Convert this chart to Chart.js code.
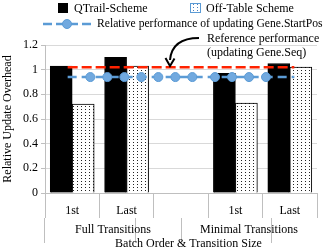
<!DOCTYPE html>
<html><head><meta charset="utf-8">
<script src="https://cdn.jsdelivr.net/npm/chart.js@4"></script>
<style>html,body{margin:0;padding:0;background:#fff}</style>
</head><body>
<canvas id="c" width="327" height="251"></canvas>
<script>
// ---- data ----
const categories = ['1st', 'Last', '', '1st', 'Last'];
const groupLabels = ['Full Transitions', 'Minimal Transitions'];
const groupCenters = [1, 4];
const groupBounds = [0, 2, 3, 5];
const qtrailValues = [1.03, 1.10, null, 0.97, 1.05];
const offTableValues = [0.72, 1.03, null, 0.73, 1.02];
const startPosX = [0, 0.5, 0.875, 1.25, 1.625, 2.0, 2.375, 2.75, 3.25, 3.625, 4.0, 4.375, 5];
const startPosY = [0.94, 0.94, 0.94, 0.94, 0.94, 0.94, 0.94, 0.94, 0.94, 0.94, 0.94, 0.94, 0.94];
const startPosMarker = [false, true, true, true, true, true, true, true, true, true, true, true, false];
const refX = [0, 5];
const refY = [1.02, 1.02];
const yTickValues = [0, 0.2, 0.4, 0.6, 0.8, 1.0, 1.2];
const yTickLabels = ['0', '0.2', '0.4', '0.6', '0.8', '1', '1.2'];
const seriesNames = ['QTrail-Scheme', 'Off-Table Scheme', 'Relative performance of updating Gene.StartPos', 'Reference performance'];
const annotationLines = ['Reference performance', '(updating Gene.Seq)'];
const yTitle = 'Relative Update Overhead';
const xTitle = 'Batch Order & Transition Size';

const FONT = '"Liberation Serif", "Times New Roman", serif';
const BLUE = '#5b9bd5';
const BLUE_FILL = '#71a9df';
const RED = '#ff2200';
const AXIS = '#bfbfbf';
const GRID = '#d9d9d9';

function makePattern(color) {
  const c = document.createElement('canvas');
  c.width = 4; c.height = 3;
  const g = c.getContext('2d');
  g.fillStyle = '#fff'; g.fillRect(0, 0, 4, 3);
  g.fillStyle = color;
  g.fillRect(1, 1, 1, 1);
  return g.createPattern(c, 'repeat');
}
const dots = makePattern('#222');
const dotsLegend = makePattern('#4a7fc0');

function fitText(ctx, text, x, y, maxW, size) {
  ctx.font = size + 'px ' + FONT;
  const w = ctx.measureText(text).width;
  if (w > maxW) ctx.font = (size * maxW / w).toFixed(2) + 'px ' + FONT;
  ctx.fillText(text, x, y);
}

const overlay = {
  id: 'overlay',
  afterDraw(chart) {
    const ctx = chart.ctx;
    const ds = chart.data.datasets;
    ctx.save();
    ctx.font = '12px ' + FONT;
    ctx.textBaseline = 'middle';
    ctx.textAlign = 'left';
    // legend row 1
    ctx.fillStyle = '#000';
    ctx.fillRect(58, 3, 10, 10);
    ctx.fillText(ds[2].label, 74, 8.5);
    ctx.fillStyle = dotsLegend;
    ctx.fillRect(190, 3, 11, 10);
    ctx.strokeStyle = BLUE; ctx.lineWidth = 1;
    ctx.strokeRect(190.5, 3.5, 10, 9);
    ctx.fillStyle = '#000';
    ctx.fillText(ds[3].label, 206, 8.5);
    // legend row 2
    ctx.strokeStyle = BLUE; ctx.lineWidth = 2.5;
    ctx.setLineDash([9, 4]);
    ctx.beginPath(); ctx.moveTo(43, 24); ctx.lineTo(92, 24); ctx.stroke();
    ctx.setLineDash([]);
    ctx.beginPath(); ctx.arc(67, 24, 4.5, 0, Math.PI * 2);
    ctx.fillStyle = BLUE_FILL; ctx.fill();
    ctx.lineWidth = 1; ctx.strokeStyle = BLUE; ctx.stroke();
    ctx.fillStyle = '#000';
    fitText(ctx, ds[0].label, 97, 24, 226, 12);
    // annotation
    ctx.font = '12px ' + FONT;
    ctx.fillText(annotationLines[0], 207, 39);
    ctx.fillText(annotationLines[1], 207, 53);
    ctx.strokeStyle = '#000'; ctx.lineWidth = 2;
    ctx.beginPath();
    ctx.moveTo(199, 38);
    ctx.quadraticCurveTo(172, 38, 170, 60);
    ctx.stroke();
    ctx.beginPath();
    ctx.moveTo(165.5, 58); ctx.lineTo(170, 66); ctx.lineTo(174.5, 58.5);
    ctx.stroke();
    ctx.restore();
  }
};

new Chart(document.getElementById('c'), {
  type: 'bar',
  data: {
    labels: categories,
    datasets: [
      {
        type: 'line', label: seriesNames[2], xAxisID: 'xLin', order: 0,
        data: startPosX.map((x, i) => ({x: x, y: startPosY[i]})),
        borderColor: BLUE, borderWidth: 2.5, borderDash: [9, 5],
        pointRadius: startPosMarker.map(m => m ? 4.5 : 0),
        pointBackgroundColor: BLUE_FILL, pointBorderColor: BLUE, pointBorderWidth: 1,
        fill: false, tension: 0, clip: 4
      },
      {
        type: 'line', label: seriesNames[3], xAxisID: 'xLin', order: 0,
        data: refX.map((x, i) => ({x: x, y: refY[i]})),
        borderColor: RED, borderWidth: 2.5, borderDash: [10, 4],
        pointRadius: 0, fill: false, tension: 0
      },
      {
        label: seriesNames[0], data: qtrailValues, xAxisID: 'x', order: 1,
        backgroundColor: '#000', borderColor: '#000', borderWidth: 1,
        barThickness: 22
      },
      {
        label: seriesNames[1], data: offTableValues, xAxisID: 'x', order: 1,
        backgroundColor: dots, borderColor: '#000', borderWidth: 1,
        barThickness: 22
      }
    ]
  },
  options: {
    responsive: false,
    devicePixelRatio: 1,
    animation: false,
    layout: {padding: {top: 45, right: 10, left: 0, bottom: 0}},
    plugins: {legend: {display: false}, tooltip: {enabled: false}},
    scales: {
      y: {
        min: 0, max: 1.2,
        afterBuildTicks: s => { s.ticks = yTickValues.map(v => ({value: v})); },
        afterFit: s => { s.width = 45; },
        ticks: {
          callback: (v, i) => yTickLabels[i],
          autoSkip: false,
          font: {family: FONT, size: 12}, color: '#000', padding: 3
        },
        grid: {color: GRID, tickColor: AXIS, tickLength: 4},
        border: {color: AXIS},
        title: {display: true, text: yTitle, font: {family: FONT, size: 12}, color: '#000', padding: {top: 1, bottom: 0}}
      },
      x: {
        type: 'category', position: 'bottom', weight: 1, offset: true,
        afterFit: s => { s.height = 25; },
        grid: {offset: true, drawOnChartArea: false, drawTicks: true, tickLength: 25, color: AXIS},
        border: {color: AXIS},
        ticks: {font: {family: FONT, size: 12}, color: '#000', padding: -14, maxRotation: 0, autoSkip: false}
      },
      xGroup: {
        type: 'linear', position: 'bottom', weight: 2, min: 0, max: 5,
        afterBuildTicks: s => { s.ticks = [0, 1, 2, 3, 4, 5].map(v => ({value: v})); },
        afterFit: s => { s.height = 33; },
        grid: {
          drawOnChartArea: false, drawTicks: true, tickLength: 25,
          color: c => (c.tick && groupBounds.includes(c.tick.value)) ? AXIS : 'rgba(0,0,0,0)'
        },
        border: {display: false},
        ticks: {
          callback: v => { const k = groupCenters.indexOf(v); return k >= 0 ? groupLabels[k] : ''; },
          font: {family: FONT, size: 12}, color: '#000', padding: -20, maxRotation: 0, autoSkip: false
        },
        title: {display: true, text: '\u00a0\u00a0\u00a0\u00a0\u00a0' + xTitle, font: {family: FONT, size: 12}, color: '#000', padding: 0}
      },
      xLin: {type: 'linear', display: false, min: 0, max: 5}
    }
  },
  plugins: [overlay]
});
</script>
</body></html>
